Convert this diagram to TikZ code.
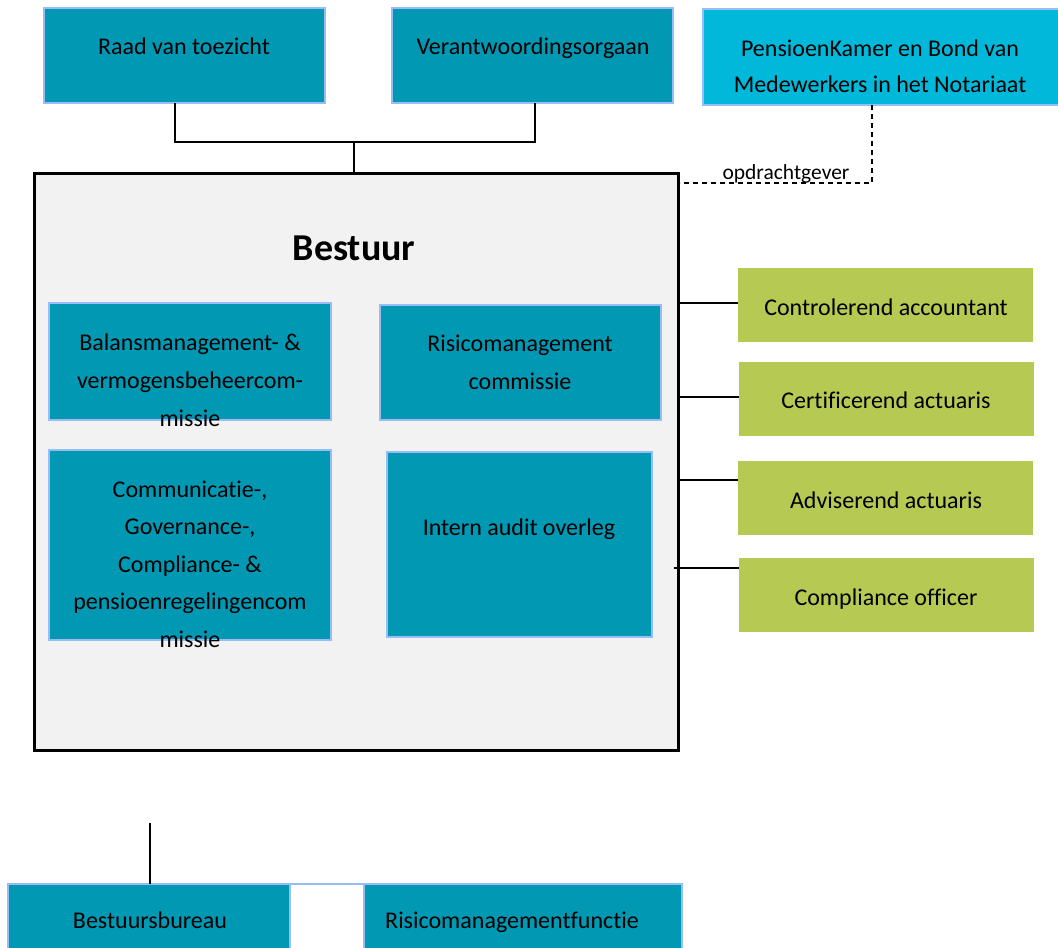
\documentclass[tikz,border=0pt]{standalone}
\usepackage{fontspec}
\setmainfont{Carlito}[Ligatures={NoCommon}]
\definecolor{tealc}{RGB}{0,152,179}
\definecolor{cyanc}{RGB}{0,185,218}
\definecolor{greenc}{RGB}{182,201,82}
\definecolor{lblue}{RGB}{150,190,245}
\definecolor{grayc}{RGB}{242,242,242}
\begin{document}
\begin{tikzpicture}[x=1pt,y=-1pt,
  box/.style={draw=lblue, line width=1.5pt, anchor=north west, inner sep=0pt, outer sep=0pt},
  tealbox/.style={box, fill=tealc},
  cyanbox/.style={box, fill=cyanc},
  greenbox/.style={anchor=north west, fill=greenc, inner sep=0pt, outer sep=0pt},
  txt/.style={align=center, font=\fontsize{24}{38}\selectfont, inner sep=0pt},
  ltxt/.style={font=\fontsize{24}{28}\selectfont, inner sep=0pt, anchor=base},
  conn/.style={line width=1.5pt, black},
  dconn/.style={line width=1.5pt, black, dashed, dash pattern=on 5pt off 4pt}
]
\useasboundingbox (0,0) rectangle (1058,948);
\clip (0,0) rectangle (1058,948);

% top boxes
\node[tealbox, minimum width=281pt, minimum height=95pt] (raad) at (44,8) {};
\node[ltxt] (raadt) at (184,54) {Raad van toezicht};
\node[tealbox, minimum width=281pt, minimum height=95pt] (vo) at (392,8) {};
\node[ltxt] (vot) at (533,54) {Verantwoordingsorgaan};
\node[cyanbox, minimum width=360pt, minimum height=96pt] (pk) at (703,9) {};
\node[txt, font=\fontsize{24}{36}\selectfont] (pkt) at (880,66) {PensioenKamer en Bond van\\Medewerkers in het Notariaat};

% Bestuur
\node[draw=black, line width=3pt, fill=grayc, anchor=north west, minimum width=644pt, minimum height=577pt, inner sep=0pt] (bestuur) at (33,172) {};
\node[font=\fontsize{38}{40}\selectfont\bfseries, inner sep=0pt, anchor=base] (bestuurt) at (354,260) {Bestuur};

% connectors top
\coordinate (j) at (354,142);
\coordinate (ra) at (175,142);
\coordinate (va) at (535,142);
\draw[conn] (ra |- raad.south) -- (ra) -- (va) -- (va |- vo.south);
\draw[conn] (j) -- (j |- bestuur.north);

% dashed
\coordinate (d1) at (872,183);
\draw[dconn] (pk.south -| d1) -- (d1) -- (d1 -| bestuur.east);
\node[font=\fontsize{21.5}{24}\selectfont, inner sep=0pt, anchor=base] (opd) at (786,179) {opdrachtgever};

% inner boxes
\node[tealbox, minimum width=282pt, minimum height=117pt] (bal) at (49,303) {};
\node[txt] (balt) at (190,380) {Balansmanagement- \&\\vermogensbeheercom-\\missie};
\node[tealbox, minimum width=281pt, minimum height=115pt] (rc) at (380,305) {};
\node[txt] (rct) at (520,362) {Risicomanagement\\commissie};
\node[tealbox, minimum width=282pt, minimum height=190pt] (com) at (49,450) {};
\node[txt, font=\fontsize{24}{37.5}\selectfont] (comt) at (190,564) {Communicatie-,\\Governance-,\\Compliance- \&\\pensioenregelingencom\\missie};
\node[tealbox, minimum width=265pt, minimum height=185pt] (ia) at (387,452) {};
\node[ltxt] (iat) at (519,535) {Intern audit overleg};

% green boxes
\node[greenbox, minimum width=295pt, minimum height=74pt] (ca) at (738,268) {};
\node[ltxt] (cat) at (886,315) {Controlerend accountant};
\node[greenbox, minimum width=295pt, minimum height=74pt] (cert) at (739,362) {};
\node[ltxt] (certt) at (886,408) {Certificerend actuaris};
\node[greenbox, minimum width=295pt, minimum height=74pt] (adv) at (738,461) {};
\node[ltxt] (advt) at (886,508) {Adviserend actuaris};
\node[greenbox, minimum width=295pt, minimum height=74pt] (co) at (739,558) {};
\node[ltxt] (cot) at (886,605) {Compliance officer};

\draw[conn] (677,303) coordinate (c1) -- (c1 -| ca.west);
\draw[conn] (677,397) coordinate (c2) -- (c2 -| cert.west);
\draw[conn] (677,480) coordinate (c3) -- (c3 -| adv.west);
\draw[conn] (674,568) coordinate (c4) -- (c4 -| co.west);

% bottom
\node[tealbox, minimum width=282pt, minimum height=90pt] (bb) at (8,884) {};
\node[ltxt] (bbt) at (150,928) {Bestuursbureau};
\node[tealbox, minimum width=318pt, minimum height=90pt] (rf) at (364,884) {};
\node[ltxt] (rft) at (512,928) {Risicomanagementfunctie};
\draw[draw=lblue, line width=1.5pt] (bb.north west) -- (rf.north east);
\coordinate (bt) at (150,823);
\draw[conn] (bt) -- (bt |- bb.north);
\end{tikzpicture}
\end{document}
